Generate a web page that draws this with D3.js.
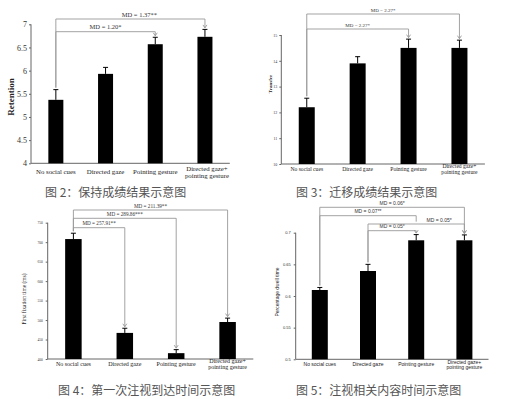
<!DOCTYPE html>
<meta charset="utf-8">
<style>
body { margin: 0; background: #fff; }
svg { display: block; }
.caption { font-family: "Noto Sans CJK SC", sans-serif; fill: #555; }
</style>
<svg width="506" height="399"></svg>
<script src="https://d3js.org/d3.v7.min.js"></script>
<script>

// categories shared by all four figures
var categories = [["No social cues"], ["Directed gaze"], ["Pointing gesture"], ["Directed gaze+", "pointing gesture"]];

// fig 2: retention
var retentionMeans = [5.37, 5.93, 6.57, 6.73];
var retentionErrs = [0.22, 0.14, 0.15, 0.16];
var retentionTicks = [4, 4.5, 5, 5.5, 6, 6.5, 7];
var retentionMD = [
  {from: 0, to: 2, label: "MD = 1.20*"},
  {from: 0, to: 3, label: "MD = 1.37**", dx: 9}
];

// fig 3: transfer
var transferMeans = [12.2, 13.9, 14.5, 14.5];
var transferErrs = [0.35, 0.26, 0.34, 0.30];
var transferTicks = [10, 11, 12, 13, 14, 15];
var transferMD = [
  {from: 0, to: 2, label: "MD = 2.27*"},
  {from: 0, to: 3, label: "MD = 2.27*"}
];

// fig 4: first fixation time
var fixationMeans = [708, 467, 415, 495];
var fixationErrs = [15, 12, 9, 10];
var fixationTicks = [400, 450, 500, 550, 600, 650, 700, 750];
var fixationMD = [
  {from: 0, to: 1, label: "MD = 257.91**"},
  {from: 0, to: 2, label: "MD = 289.86***"},
  {from: 0, to: 3, label: "MD = 211.39**"}
];

// fig 5: percentage dwell time
var dwellMeans = [0.6095, 0.6395, 0.688, 0.688];
var dwellErrs = [0.004, 0.0105, 0.009, 0.0085];
var dwellTicks = [0.5, 0.55, 0.6, 0.65, 0.7];
var dwellMD = [
  {from: 1, to: 2, label: "MD = 0.05*"},
  {from: 1, to: 3, label: "MD = 0.05*", dx: 23},
  {from: 0, to: 2, label: "MD = 0.07**", short: true},
  {from: 0, to: 3, label: "MD = 0.06*"}
];

var svg = d3.select("svg");

// draws one bar chart panel
function drawPanel(p) {
  var g = svg.append("g");
  var font = p.font;

  var x = d3.scalePoint()
      .domain(d3.range(categories.length))
      .range([p.axisX, p.axisX + p.step * categories.length])
      .padding(0.5);

  var y = d3.scaleLinear()
      .domain(d3.extent(p.ticks))
      .range([p.yBottom, p.yTop]);

  // y axis
  var yAxis = g.append("g")
      .attr("transform", "translate(" + p.axisX + ",0)")
      .call(d3.axisLeft(y).tickValues(p.ticks).tickSize(2).tickPadding(p.tickPad).tickFormat(function(d) { return d; }));
  yAxis.select(".domain").attr("stroke", "#666").attr("d", "M0," + p.yTop + "V" + p.yBottom);
  yAxis.selectAll(".tick line").attr("stroke", "#666");
  yAxis.selectAll(".tick text")
      .style("font-family", font)
      .style("font-size", p.tickSize + "px")
      .attr("fill", "#333");

  // x axis line
  g.append("line")
      .attr("x1", p.axisX).attr("x2", p.axisX + p.step * categories.length)
      .attr("y1", p.yBottom).attr("y2", p.yBottom)
      .attr("stroke", "#666");

  // bars
  g.selectAll("rect.bar")
      .data(p.means)
      .enter().append("rect")
      .attr("class", "bar")
      .attr("x", function(d, i) { return x(i) - p.barW / 2; })
      .attr("y", function(d) { return y(d); })
      .attr("width", p.barW)
      .attr("height", function(d) { return p.yBottom - y(d); })
      .attr("fill", "#000");

  // error bars (upper only)
  p.means.forEach(function(m, i) {
    var top = y(m + p.errs[i]);
    g.append("line")
        .attr("x1", x(i)).attr("x2", x(i))
        .attr("y1", y(m)).attr("y2", top)
        .attr("stroke", "#000").attr("stroke-width", 1);
    g.append("line")
        .attr("x1", x(i) - 2.5).attr("x2", x(i) + 2.5)
        .attr("y1", top).attr("y2", top)
        .attr("stroke", "#000").attr("stroke-width", 1);
  });

  // x labels
  categories.forEach(function(lines, i) {
    var t = g.append("text")
        .attr("x", x(i) + (lines.length > 1 ? p.multiDx : 0))
        .attr("y", p.labelY - (lines.length - 1) * p.lineH * 0.35)
        .attr("text-anchor", "middle")
        .style("font-family", font)
        .style("font-size", p.labelSize + "px")
        .attr("fill", "#222");
    lines.forEach(function(s, k) {
      t.append("tspan").attr("x", x(i) + (lines.length > 1 ? p.multiDx : 0)).attr("dy", k == 0 ? 0 : p.lineH).text(s);
    });
  });

  // y title
  g.append("text")
      .attr("transform", "translate(" + p.titleX + "," + p.titleY + ") rotate(-90)")
      .attr("text-anchor", "middle")
      .style("font-family", font)
      .style("font-size", p.titleSize + "px")
      .style("font-weight", p.titleBold ? "bold" : "normal")
      .attr("fill", "#222")
      .text(p.title);

  // MD brackets
  p.md.forEach(function(c, k) {
    var ly = p.levels[k];
    var x1 = x(c.from), x2 = x(c.to);
    var y1 = y(p.means[c.from] + p.errs[c.from]) - 2;
    var y2 = c.short ? ly + 6 : y(p.means[c.to] + p.errs[c.to]) - 1.5;
    g.append("path")
        .attr("d", "M" + x1 + "," + y1 + "V" + ly + "H" + x2 + "V" + y2)
        .attr("fill", "none")
        .attr("stroke", "#999")
        .attr("stroke-width", 0.9);
    if (!c.short) {
      g.append("path")
          .attr("d", "M" + (x2 - 2) + "," + (y2 - 3) + "L" + x2 + "," + y2 + "L" + (x2 + 2) + "," + (y2 - 3))
          .attr("fill", "none")
          .attr("stroke", "#999")
          .attr("stroke-width", 0.9);
    }
    g.append("text")
        .attr("x", (x1 + x2) / 2 + (c.dx || 0))
        .attr("y", ly - 2.5)
        .attr("text-anchor", "middle")
        .style("font-family", font)
        .style("font-size", p.mdSize + "px")
        .attr("fill", "#333")
        .text(c.label);
  });

  // caption
  svg.append("text")
      .attr("class", "caption")
      .attr("x", p.capX)
      .attr("y", p.capY)
      .style("font-size", "12px")
      .text(p.caption);
}

drawPanel({
  means: retentionMeans, errs: retentionErrs, ticks: retentionTicks, md: retentionMD,
  axisX: 31, step: 49.7, yTop: 24.3, yBottom: 163.3, barW: 15,
  levels: [31.7, 19],
  font: "'Liberation Serif', serif", tickSize: 8, tickPad: 2, labelSize: 6.8, labelY: 173.5, lineH: 6.3, multiDx: 2,
  title: "Retention", titleX: 14, titleY: 97, titleSize: 9, titleBold: true, mdSize: 6.5,
  caption: "图 2：保持成绩结果示意图", capX: 45, capY: 197
});

drawPanel({
  means: transferMeans, errs: transferErrs, ticks: transferTicks, md: transferMD,
  axisX: 281.3, step: 50.9, yTop: 35, yBottom: 164, barW: 16,
  levels: [29, 14],
  font: "'Liberation Serif', serif", tickSize: 4, tickPad: 2, labelSize: 5.6, labelY: 170.5, lineH: 6, multiDx: 0,
  title: "Transfer", titleX: 272, titleY: 84, titleSize: 5, titleBold: true, mdSize: 5,
  caption: "图 3：迁移成绩结果示意图", capX: 296, capY: 197
});

drawPanel({
  means: fixationMeans, errs: fixationErrs, ticks: fixationTicks, md: fixationMD,
  axisX: 47.7, step: 51.4, yTop: 222.7, yBottom: 359, barW: 16.5,
  levels: [227.7, 218.3, 210],
  font: "'Liberation Serif', serif", tickSize: 3.5, tickPad: 3, labelSize: 6, labelY: 365.5, lineH: 6, multiDx: 0,
  title: "First fixation time (ms)", titleX: 26, titleY: 299, titleSize: 5.5, titleBold: false, mdSize: 5.2,
  caption: "图 4：第一次注视到达时间示意图", capX: 58, capY: 395
});

drawPanel({
  means: dwellMeans, errs: dwellErrs, ticks: dwellTicks, md: dwellMD,
  axisX: 295.7, step: 48.2, yTop: 232.7, yBottom: 359.3, barW: 16,
  levels: [230.7, 224, 215.7, 207.3],
  font: "'Liberation Sans', sans-serif", tickSize: 4, tickPad: 3, labelSize: 5, labelY: 365.5, lineH: 5.5, multiDx: 0,
  title: "Percentage dwell time", titleX: 279, titleY: 292, titleSize: 5, titleBold: false, mdSize: 5,
  caption: "图 5：注视相关内容时间示意图", capX: 296, capY: 395
});

</script>
